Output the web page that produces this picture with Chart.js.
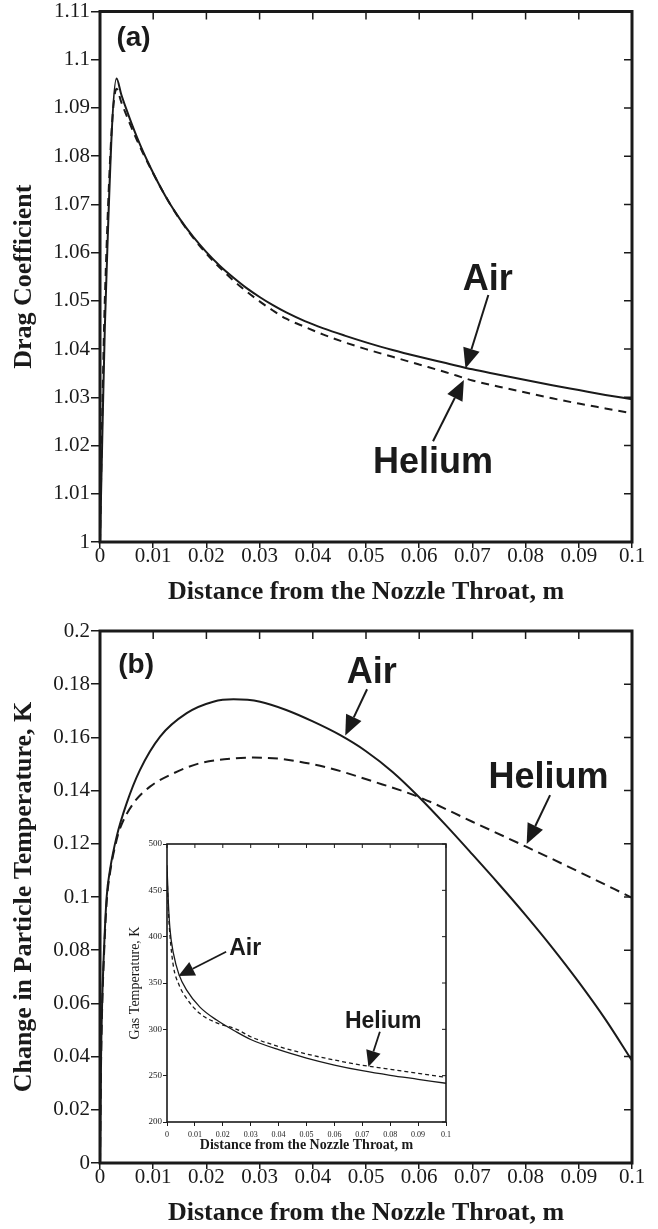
<!DOCTYPE html>
<html>

<head>
    <title>Drag coefficient and particle temperature</title>
    <script src="https://cdn.jsdelivr.net/npm/chart.js"></script>
    <style>
        body {
            margin: 0;
            padding: 0;
            background: white;
        }

        .page {
            position: relative;
            width: 658px;
            height: 1229px;
        }

        canvas {
            position: absolute;
        }

        #chartA { left: 0; top: 0; }
        #chartB { left: 0; top: 612px; }
        #chartInset { left: 100px; top: 830px; }
    </style>
</head>

<body>
    <div class="page">
        <canvas id="chartA" width="658" height="612"></canvas>
        <canvas id="chartB" width="658" height="617"></canvas>
        <canvas id="chartInset" width="360" height="330"></canvas>
    </div>

    <script>
        // ---- data ----
        // (a) drag coefficient
        const xA = [0, 0.0004, 0.0009, 0.0031, 0.004, 0.005, 0.006, 0.007, 0.008, 0.009, 0.010, 0.0115, 0.013, 0.015, 0.0175, 0.020, 0.0225, 0.025, 0.0275, 0.030, 0.0325, 0.035, 0.0385, 0.042, 0.046, 0.05, 0.055, 0.06, 0.065, 0.07, 0.075, 0.08, 0.085, 0.09, 0.095, 0.1];
        const airA = [1.0, 1.02, 1.044, 1.0961, 1.0928, 1.0896, 1.0866, 1.0838, 1.0812, 1.0788, 1.0765, 1.0733, 1.0704, 1.0670, 1.0633, 1.0601, 1.0573, 1.0549, 1.0527, 1.0508, 1.0491, 1.0476, 1.0458, 1.0443, 1.0428, 1.0414, 1.0398, 1.0384, 1.0371, 1.0358, 1.0347, 1.0336, 1.0325, 1.0315, 1.0305, 1.0296];
        const heliumA = [1.0, 1.025, 1.05, 1.094, 1.0912, 1.0884, 1.0857, 1.0832, 1.0808, 1.0786, 1.0764, 1.0733, 1.0704, 1.0669, 1.0631, 1.0598, 1.0569, 1.0543, 1.0520, 1.0499, 1.0480, 1.0463, 1.0446, 1.0430, 1.0414, 1.0400, 1.0384, 1.0368, 1.0352, 1.0335, 1.0322, 1.0310, 1.0298, 1.0287, 1.0277, 1.0267];

        // (b) change in particle temperature
        const xAirB = [0, 0.0002, 0.0004, 0.00075, 0.00125, 0.00188, 0.00313, 0.005, 0.0075, 0.0113, 0.0163, 0.0213, 0.0251, 0.0301, 0.035, 0.04, 0.045, 0.05, 0.055, 0.06, 0.065, 0.07, 0.075, 0.08, 0.085, 0.09, 0.095, 0.1];
        const airB = [0, 0.04, 0.06, 0.08, 0.1, 0.1102, 0.1227, 0.1352, 0.1477, 0.1603, 0.1691, 0.1734, 0.1743, 0.1734, 0.1703, 0.1660, 0.1610, 0.1548, 0.1470, 0.1375, 0.1270, 0.1160, 0.1048, 0.0932, 0.0810, 0.0680, 0.0540, 0.0385];
        const xHeliumB = [0, 0.0002, 0.0004, 0.00075, 0.00125, 0.00188, 0.00313, 0.00376, 0.00627, 0.0094, 0.0138, 0.0188, 0.0251, 0.0288, 0.0345, 0.0432, 0.0514, 0.0598, 0.07, 0.08, 0.09, 0.1];
        const heliumB = [0, 0.038, 0.058, 0.078, 0.098, 0.109, 0.1215, 0.1258, 0.1352, 0.1415, 0.1465, 0.1503, 0.1521, 0.1524, 0.1518, 0.1484, 0.1434, 0.1377, 0.1283, 0.1190, 0.1095, 0.0997];

        // inset: gas temperature
        const xInset = [0, 0.0005, 0.0011, 0.0023, 0.0043, 0.0071, 0.0118, 0.0178, 0.025, 0.03, 0.04, 0.05, 0.06, 0.07, 0.08, 0.09, 0.1];
        const airInset = [477, 436, 407, 382, 359, 342, 324, 310, 297, 289, 278, 269, 261.5, 255.4, 250.4, 246.1, 241.8];
        const heliumInset = [470, 428, 400, 368, 348, 333, 317, 307, 300, 292, 281.5, 273.4, 266.9, 261.3, 256.8, 252.5, 248.2];

        // ticks
        const xTicks = [0, 0.01, 0.02, 0.03, 0.04, 0.05, 0.06, 0.07, 0.08, 0.09, 0.1];
        const xTickLabels = ['0', '0.01', '0.02', '0.03', '0.04', '0.05', '0.06', '0.07', '0.08', '0.09', '0.1'];
        const yTicksA = [1, 1.01, 1.02, 1.03, 1.04, 1.05, 1.06, 1.07, 1.08, 1.09, 1.1, 1.11];
        const yTickLabelsA = ['1', '1.01', '1.02', '1.03', '1.04', '1.05', '1.06', '1.07', '1.08', '1.09', '1.1', '1.11'];
        const yTicksB = [0, 0.02, 0.04, 0.06, 0.08, 0.1, 0.12, 0.14, 0.16, 0.18, 0.2];
        const yTickLabelsB = ['0', '0.02', '0.04', '0.06', '0.08', '0.1', '0.12', '0.14', '0.16', '0.18', '0.2'];
        const yTicksInset = [200, 250, 300, 350, 400, 450, 500];
        const yTickLabelsInset = ['200', '250', '300', '350', '400', '450', '500'];

        // annotations, in data units of each chart
        const notesA = {
            labels: [
                { text: '(a)', at: [0.0063, 1.1044], size: 28 },
                { text: 'Air', at: [0.0729, 1.0543], size: 36 },
                { text: 'Helium', at: [0.0626, 1.0164], size: 36 }
            ],
            arrows: [
                { from: [0.0730, 1.0512], to: [0.0687, 1.0360] },
                { from: [0.0626, 1.0209], to: [0.0684, 1.0336] }
            ]
        };
        const notesB = {
            labels: [
                { text: '(b)', at: [0.0068, 0.1872], size: 28 },
                { text: 'Air', at: [0.0511, 0.1840], size: 36 },
                { text: 'Helium', at: [0.0843, 0.1446], size: 36 }
            ],
            arrows: [
                { from: [0.0502, 0.1781], to: [0.0461, 0.1607] },
                { from: [0.0846, 0.1383], to: [0.0802, 0.1199] }
            ]
        };
        const notesInset = {
            labels: [
                { text: 'Air', at: [0.0280, 387.4], size: 23 },
                { text: 'Helium', at: [0.0775, 308.2], size: 23 }
            ],
            arrows: [
                { from: [0.0212, 383.8], to: [0.0041, 357.5] },
                { from: [0.0763, 297.4], to: [0.0722, 259.7] }
            ]
        };

        const ink = '#1a1a1a';
        Chart.defaults.font.family = '"Liberation Serif", "Times New Roman", serif';
        Chart.defaults.color = ink;

        // box round the plot, with the inward ticks on top and right
        const framePlugin = {
            id: 'frame',
            afterDraw(chart, args, opts) {
                const { ctx, chartArea: a, scales } = chart;
                ctx.save();
                ctx.strokeStyle = ink;
                ctx.lineWidth = opts.tickWidth;
                ctx.beginPath();
                scales.x.ticks.forEach(t => {
                    const px = scales.x.getPixelForValue(t.value);
                    ctx.moveTo(px, a.top);
                    ctx.lineTo(px, a.top + opts.tick);
                });
                scales.y.ticks.forEach(t => {
                    const py = scales.y.getPixelForValue(t.value);
                    ctx.moveTo(a.right, py);
                    ctx.lineTo(a.right - opts.tick, py);
                });
                ctx.stroke();
                ctx.lineWidth = opts.width;
                ctx.strokeRect(a.left, a.top, a.right - a.left, a.bottom - a.top);
                ctx.restore();
            }
        };

        // text labels and arrows
        const notesPlugin = {
            id: 'notes',
            afterDatasetsDraw(chart, args, opts) {
                const { ctx, scales: { x, y } } = chart;
                ctx.save();
                ctx.fillStyle = ink;
                ctx.strokeStyle = ink;
                (opts.arrows || []).forEach(ar => {
                    const x0 = x.getPixelForValue(ar.from[0]), y0 = y.getPixelForValue(ar.from[1]);
                    const x1 = x.getPixelForValue(ar.to[0]), y1 = y.getPixelForValue(ar.to[1]);
                    const ang = Math.atan2(y1 - y0, x1 - x0);
                    const bx = x1 - Math.cos(ang) * opts.head;
                    const by = y1 - Math.sin(ang) * opts.head;
                    const hw = opts.headWidth / 2;
                    ctx.lineWidth = opts.shaft;
                    ctx.beginPath();
                    ctx.moveTo(x0, y0);
                    ctx.lineTo(bx, by);
                    ctx.stroke();
                    ctx.beginPath();
                    ctx.moveTo(x1, y1);
                    ctx.lineTo(bx + Math.sin(ang) * hw, by - Math.cos(ang) * hw);
                    ctx.lineTo(bx - Math.sin(ang) * hw, by + Math.cos(ang) * hw);
                    ctx.closePath();
                    ctx.fill();
                });
                ctx.textAlign = 'center';
                ctx.textBaseline = 'middle';
                (opts.labels || []).forEach(l => {
                    ctx.font = 'bold ' + l.size + 'px "Liberation Sans", Arial, sans-serif';
                    ctx.fillText(l.text, x.getPixelForValue(l.at[0]), y.getPixelForValue(l.at[1]));
                });
                ctx.restore();
            }
        };

        function points(xs, ys) {
            return xs.map((v, i) => ({ x: v, y: ys[i] }));
        }

        function lineSet(xs, ys, width, dash) {
            return {
                data: points(xs, ys),
                borderColor: ink,
                borderWidth: width,
                borderDash: dash,
                pointRadius: 0,
                fill: false,
                cubicInterpolationMode: 'monotone'
            };
        }

        function axisTitle(text, size, weight, padding) {
            return {
                display: true,
                text: text,
                color: ink,
                font: { family: '"Liberation Serif", "Times New Roman", serif', size: size, weight: weight, lineHeight: 1.2 },
                padding: padding
            };
        }

        function tickGrid(len, width) {
            return { display: true, drawOnChartArea: false, drawTicks: true, tickLength: len, color: ink, lineWidth: width };
        }

        // ---- (a) ----
        new Chart(document.getElementById('chartA').getContext('2d'), {
            type: 'line',
            data: {
                datasets: [
                    lineSet(xA, airA, 2, []),
                    lineSet(xA, heliumA, 2, [8, 6])
                ]
            },
            options: {
                responsive: false,
                animation: false,
                layout: { padding: { top: 11, right: 26, left: 0, bottom: 0 } },
                plugins: {
                    legend: { display: false },
                    tooltip: { enabled: false },
                    frame: { width: 3, tick: 8, tickWidth: 1.5 },
                    notes: Object.assign({ head: 20, headWidth: 17, shaft: 2 }, notesA)
                },
                scales: {
                    x: {
                        type: 'linear', min: 0, max: 0.1,
                        afterBuildTicks: s => { s.ticks = xTicks.map(v => ({ value: v })); },
                        afterFit: s => { s.height = 70; },
                        ticks: { autoSkip: false, maxRotation: 0, padding: -2, font: { size: 21, lineHeight: 1 }, callback: (v, i) => xTickLabels[i] },
                        grid: tickGrid(6, 1.5),
                        border: { display: false },
                        title: axisTitle('Distance from the Nozzle Throat, m', 26, 'bold', { top: 0, bottom: 4 })
                    },
                    y: {
                        type: 'linear', min: 1, max: 1.11,
                        afterBuildTicks: s => { s.ticks = yTicksA.map(v => ({ value: v })); },
                        afterFit: s => { s.width = 100; },
                        ticks: { padding: 1, font: { size: 21, lineHeight: 1 }, callback: (v, i) => yTickLabelsA[i] },
                        grid: tickGrid(9, 1.5),
                        border: { display: false },
                        title: axisTitle('Drag Coefficient', 26, 'bold', { top: 9, bottom: 0 })
                    }
                }
            },
            plugins: [framePlugin, notesPlugin]
        });

        // ---- (b) ----
        new Chart(document.getElementById('chartB').getContext('2d'), {
            type: 'line',
            data: {
                datasets: [
                    lineSet(xAirB, airB, 2, []),
                    lineSet(xHeliumB, heliumB, 2, [10, 6])
                ]
            },
            options: {
                responsive: false,
                animation: false,
                layout: { padding: { top: 19, right: 26, left: 0, bottom: 0 } },
                plugins: {
                    legend: { display: false },
                    tooltip: { enabled: false },
                    frame: { width: 3, tick: 8, tickWidth: 1.5 },
                    notes: Object.assign({ head: 20, headWidth: 17, shaft: 2 }, notesB)
                },
                scales: {
                    x: {
                        type: 'linear', min: 0, max: 0.1,
                        afterBuildTicks: s => { s.ticks = xTicks.map(v => ({ value: v })); },
                        afterFit: s => { s.height = 66; },
                        ticks: { autoSkip: false, maxRotation: 0, padding: -2, font: { size: 21, lineHeight: 1 }, callback: (v, i) => xTickLabels[i] },
                        grid: tickGrid(6, 1.5),
                        border: { display: false },
                        title: axisTitle('Distance from the Nozzle Throat, m', 26, 'bold', { top: 0, bottom: 0 })
                    },
                    y: {
                        type: 'linear', min: 0, max: 0.2,
                        afterBuildTicks: s => { s.ticks = yTicksB.map(v => ({ value: v })); },
                        afterFit: s => { s.width = 100; },
                        ticks: { padding: 1, font: { size: 21, lineHeight: 1 }, callback: (v, i) => yTickLabelsB[i] },
                        grid: tickGrid(9, 1.5),
                        border: { display: false },
                        title: axisTitle('Change in Particle Temperature, K', 26, 'bold', { top: 9, bottom: 0 })
                    }
                }
            },
            plugins: [framePlugin, notesPlugin]
        });

        // ---- inset ----
        new Chart(document.getElementById('chartInset').getContext('2d'), {
            type: 'line',
            data: {
                datasets: [
                    lineSet(xInset, airInset, 1.3, []),
                    lineSet(xInset, heliumInset, 1.3, [4, 3])
                ]
            },
            options: {
                responsive: false,
                animation: false,
                layout: { padding: { top: 14, right: 14, left: 0, bottom: 0 } },
                plugins: {
                    legend: { display: false },
                    tooltip: { enabled: false },
                    frame: { width: 1.6, tick: 4, tickWidth: 1 },
                    notes: Object.assign({ head: 16, headWidth: 15, shaft: 1.8 }, notesInset)
                },
                scales: {
                    x: {
                        type: 'linear', min: 0, max: 0.1,
                        afterBuildTicks: s => { s.ticks = xTicks.map(v => ({ value: v })); },
                        afterFit: s => { s.height = 38; },
                        ticks: { autoSkip: false, maxRotation: 0, padding: 4, font: { size: 8, lineHeight: 1.2 }, callback: (v, i) => xTickLabels[i] },
                        grid: tickGrid(4, 1),
                        border: { display: false },
                        title: axisTitle('Distance from the Nozzle Throat, m', 14, 'bold', { top: 0, bottom: 6 })
                    },
                    y: {
                        type: 'linear', min: 200, max: 500,
                        afterBuildTicks: s => { s.ticks = yTicksInset.map(v => ({ value: v })); },
                        afterFit: s => { s.width = 67; },
                        ticks: { padding: 1, font: { size: 9, lineHeight: 1 }, callback: (v, i) => yTickLabelsInset[i] },
                        grid: tickGrid(4, 1),
                        border: { display: false },
                        title: axisTitle('Gas Temperature, K', 14, 'normal', { top: 27, bottom: 0 })
                    }
                }
            },
            plugins: [framePlugin, notesPlugin]
        });
    </script>
</body>

</html>
